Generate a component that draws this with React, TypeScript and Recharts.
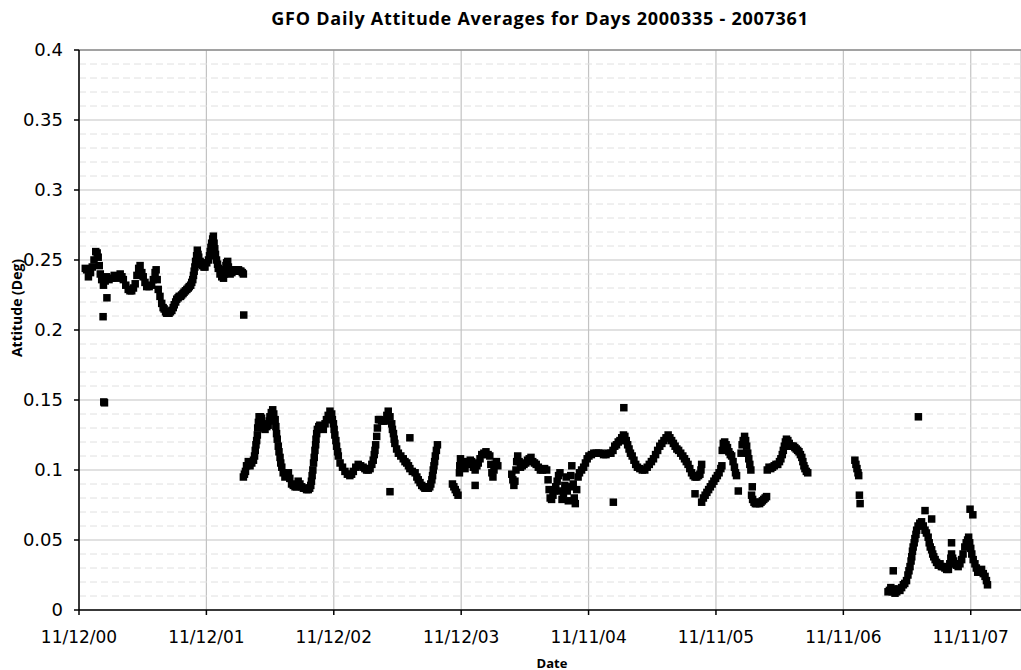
import {
  CartesianGrid,
  ReferenceLine,
  Scatter,
  ScatterChart,
  XAxis,
  YAxis,
} from "recharts";

// x = days since 11/12/2000 (first major tick), y = attitude in degrees
const xTicks = [0, 365, 730, 1095, 1460, 1825, 2190, 2555];
const xTickLabels = [
  "11/12/00",
  "11/12/01",
  "11/12/02",
  "11/12/03",
  "11/11/04",
  "11/11/05",
  "11/11/06",
  "11/11/07",
];
const yTicks = [0, 0.05, 0.1, 0.15, 0.2, 0.25, 0.3, 0.35, 0.4];
const yMinorTicks = [
  0.01, 0.02, 0.03, 0.04, 0.06, 0.07, 0.08, 0.09, 0.11, 0.12, 0.13, 0.14,
  0.16, 0.17, 0.18, 0.19, 0.21, 0.22, 0.23, 0.24, 0.26, 0.27, 0.28, 0.29,
  0.31, 0.32, 0.33, 0.34, 0.36, 0.37, 0.38, 0.39,
];

type Pt = [number, number];

const seg2001: Pt[] = [
  [18, 0.244], [22, 0.243], [27, 0.238], [33, 0.241], [38, 0.245], [43, 0.25],
  [48, 0.256], [52, 0.255], [55, 0.252], [58, 0.246], [61, 0.24], [65, 0.236],
  [70, 0.232], [75, 0.235], [79, 0.238], [86, 0.236], [94, 0.237], [101, 0.239],
  [108, 0.237], [113, 0.238], [118, 0.24], [123, 0.238], [127, 0.236],
  [134, 0.232], [141, 0.229], [146, 0.228], [151, 0.228], [156, 0.23],
  [161, 0.233], [166, 0.239], [171, 0.244], [175, 0.246], [180, 0.241],
  [184, 0.238], [189, 0.234], [194, 0.231], [201, 0.231], [208, 0.232],
  [213, 0.236], [218, 0.241], [221, 0.243], [224, 0.236], [227, 0.229],
  [232, 0.224], [237, 0.219], [241, 0.216], [244, 0.215], [248, 0.213],
  [251, 0.212], [255, 0.212], [258, 0.212], [262, 0.213], [266, 0.214],
  [270, 0.216], [273, 0.218], [277, 0.22], [280, 0.222], [284, 0.223],
  [287, 0.224], [291, 0.224], [294, 0.225], [298, 0.226], [301, 0.227],
  [305, 0.228], [309, 0.229], [313, 0.23], [316, 0.231], [320, 0.232],
  [323, 0.234], [326, 0.236], [328, 0.239], [330, 0.242], [332, 0.245],
  [334, 0.249], [337, 0.253], [339, 0.257], [341, 0.254], [343, 0.252],
  [347, 0.249], [351, 0.247], [354, 0.246], [358, 0.245], [361, 0.245],
  [366, 0.248], [371, 0.25], [374, 0.253], [376, 0.256], [378, 0.259],
  [380, 0.262], [383, 0.265], [385, 0.267], [387, 0.262], [389, 0.258],
  [391, 0.254], [394, 0.25], [397, 0.247], [399, 0.244], [404, 0.24],
  [409, 0.238], [414, 0.237], [417, 0.24], [419, 0.243], [421, 0.246],
  [423, 0.248], [426, 0.249], [428, 0.245], [433, 0.24], [438, 0.241],
  [442, 0.242], [446, 0.243], [450, 0.243], [454, 0.242], [457, 0.243],
  [461, 0.242], [464, 0.242], [468, 0.241], [471, 0.24],
];

const seg2002: Pt[] = [
  [471, 0.095], [474, 0.097], [477, 0.099], [480, 0.103], [485, 0.106],
  [490, 0.103], [495, 0.105], [500, 0.107], [503, 0.11], [505, 0.114],
  [507, 0.118], [509, 0.121], [511, 0.125], [512, 0.13], [514, 0.134],
  [516, 0.138], [520, 0.138], [523, 0.137], [527, 0.133], [530, 0.13],
  [533, 0.129], [538, 0.131], [542, 0.132], [545, 0.135], [547, 0.138],
  [551, 0.141], [555, 0.143], [558, 0.14], [562, 0.136], [564, 0.131],
  [566, 0.126], [568, 0.122], [571, 0.117], [573, 0.113], [576, 0.109],
  [578, 0.105], [581, 0.102], [585, 0.098], [590, 0.095], [595, 0.097],
  [600, 0.098], [604, 0.094], [609, 0.09], [614, 0.089], [619, 0.088],
  [624, 0.088], [628, 0.092], [633, 0.09], [638, 0.088], [643, 0.087],
  [648, 0.087], [652, 0.086], [657, 0.086], [661, 0.087], [664, 0.089],
  [666, 0.092], [668, 0.096], [670, 0.1], [672, 0.105], [674, 0.109],
  [676, 0.114], [678, 0.118], [679, 0.122], [681, 0.126], [683, 0.129],
  [687, 0.131], [690, 0.132], [695, 0.13], [700, 0.129], [705, 0.133],
  [709, 0.136], [714, 0.139], [719, 0.142], [724, 0.14], [726, 0.136],
  [729, 0.133], [731, 0.129], [733, 0.125], [736, 0.121], [738, 0.117],
  [741, 0.113], [743, 0.11], [748, 0.105], [755, 0.102], [762, 0.099],
  [769, 0.097], [776, 0.096], [781, 0.097], [786, 0.099], [793, 0.102],
  [800, 0.104], [807, 0.103], [814, 0.102], [819, 0.101], [824, 0.1],
  [829, 0.1], [834, 0.101], [839, 0.104], [843, 0.107], [846, 0.111],
  [848, 0.114], [850, 0.118], [853, 0.124], [855, 0.13], [858, 0.136],
  [862, 0.136], [867, 0.135], [872, 0.135], [877, 0.135], [882, 0.139],
  [886, 0.142], [891, 0.138], [896, 0.133], [898, 0.129], [901, 0.126],
  [903, 0.122], [905, 0.119], [910, 0.115], [915, 0.112], [922, 0.11],
  [929, 0.108], [934, 0.106], [939, 0.105], [944, 0.103], [948, 0.101],
  [955, 0.099], [963, 0.098], [968, 0.095], [972, 0.093], [977, 0.091],
  [982, 0.089], [987, 0.088], [991, 0.087], [996, 0.087], [1001, 0.087],
  [1005, 0.088], [1008, 0.09], [1011, 0.093], [1013, 0.096], [1015, 0.1],
  [1017, 0.103], [1019, 0.106], [1021, 0.11], [1024, 0.114], [1027, 0.118],
];

const seg2003: Pt[] = [
  [1070, 0.09], [1074, 0.088], [1078, 0.086], [1082, 0.084], [1086, 0.082],
  [1090, 0.098], [1091, 0.103], [1093, 0.108], [1097, 0.106], [1101, 0.102],
  [1106, 0.101], [1111, 0.104], [1116, 0.106], [1121, 0.107], [1125, 0.106],
  [1130, 0.102], [1135, 0.1], [1140, 0.103], [1144, 0.105], [1149, 0.108],
  [1154, 0.111], [1160, 0.112], [1166, 0.113], [1172, 0.111], [1177, 0.11],
  [1180, 0.104], [1183, 0.098], [1186, 0.095], [1189, 0.1], [1192, 0.104],
  [1196, 0.106], [1200, 0.103],
];

const seg2004: Pt[] = [
  [1240, 0.097], [1243, 0.093], [1246, 0.089], [1249, 0.092], [1252, 0.1],
  [1254, 0.106], [1257, 0.11], [1261, 0.106], [1265, 0.102], [1270, 0.103],
  [1275, 0.104], [1280, 0.105], [1285, 0.107], [1290, 0.108], [1295, 0.109],
  [1300, 0.106], [1305, 0.105], [1310, 0.104], [1316, 0.102], [1322, 0.1],
  [1328, 0.1], [1334, 0.101], [1340, 0.1], [1344, 0.093], [1347, 0.086],
  [1350, 0.08], [1354, 0.079], [1358, 0.082], [1362, 0.085], [1366, 0.088],
  [1370, 0.092], [1374, 0.096], [1378, 0.098], [1381, 0.085], [1384, 0.079],
  [1388, 0.083], [1392, 0.089], [1396, 0.095], [1399, 0.085], [1402, 0.078],
  [1406, 0.088], [1409, 0.096], [1412, 0.103], [1416, 0.09], [1419, 0.08],
  [1422, 0.076], [1426, 0.086], [1430, 0.095], [1434, 0.098], [1440, 0.1],
  [1446, 0.102], [1451, 0.105], [1456, 0.108], [1461, 0.11], [1468, 0.111],
  [1475, 0.112], [1482, 0.112], [1489, 0.112], [1496, 0.112], [1503, 0.111],
  [1510, 0.111], [1517, 0.112], [1524, 0.112], [1530, 0.114], [1535, 0.117],
  [1540, 0.118], [1545, 0.12], [1550, 0.121], [1555, 0.123], [1560, 0.125],
  [1564, 0.124], [1568, 0.121], [1572, 0.118], [1576, 0.115], [1580, 0.112],
  [1585, 0.11], [1590, 0.107], [1595, 0.104], [1600, 0.102], [1607, 0.101],
  [1614, 0.1], [1621, 0.1], [1628, 0.102], [1634, 0.104], [1640, 0.106],
  [1646, 0.108], [1652, 0.111], [1658, 0.114], [1664, 0.117], [1670, 0.119],
  [1676, 0.121], [1682, 0.123], [1688, 0.125], [1693, 0.123], [1698, 0.121],
  [1703, 0.119], [1708, 0.117], [1713, 0.115], [1718, 0.114], [1724, 0.112],
  [1730, 0.11], [1735, 0.108], [1740, 0.106], [1745, 0.104], [1750, 0.101],
  [1755, 0.098], [1760, 0.096], [1765, 0.095], [1770, 0.095], [1775, 0.096],
  [1779, 0.097], [1782, 0.1], [1784, 0.104],
];

const seg2005: Pt[] = [
  [1784, 0.077], [1789, 0.08], [1794, 0.082], [1799, 0.084], [1804, 0.086],
  [1809, 0.088], [1814, 0.09], [1819, 0.092], [1824, 0.094], [1829, 0.096],
  [1834, 0.098], [1839, 0.101], [1842, 0.103], [1843, 0.114], [1846, 0.119],
  [1850, 0.12], [1854, 0.118], [1858, 0.116], [1862, 0.113], [1866, 0.111],
  [1870, 0.11], [1874, 0.106], [1878, 0.102], [1881, 0.098], [1884, 0.096],
  [1897, 0.112], [1900, 0.118], [1903, 0.121], [1907, 0.124], [1910, 0.121],
  [1913, 0.117], [1916, 0.112], [1919, 0.108], [1922, 0.104], [1925, 0.1],
  [1927, 0.082], [1930, 0.079], [1934, 0.077], [1938, 0.076], [1942, 0.076],
  [1946, 0.077], [1950, 0.076], [1954, 0.077], [1958, 0.078], [1962, 0.079],
  [1966, 0.08], [1970, 0.081], [1972, 0.1], [1977, 0.102], [1982, 0.101],
  [1987, 0.102], [1992, 0.103], [1997, 0.104], [2002, 0.104], [2007, 0.106],
  [2011, 0.108], [2015, 0.111], [2018, 0.114], [2021, 0.117], [2024, 0.12],
  [2027, 0.122], [2031, 0.121], [2035, 0.119], [2039, 0.117], [2043, 0.117],
  [2047, 0.117], [2051, 0.116], [2055, 0.115], [2059, 0.114], [2063, 0.113],
  [2067, 0.111], [2071, 0.109], [2074, 0.106], [2077, 0.103], [2080, 0.101],
  [2084, 0.099], [2088, 0.098],
];

const seg2006: Pt[] = [
  [2223, 0.107], [2226, 0.104], [2229, 0.101], [2232, 0.098], [2234, 0.096],
];

const seg2007: Pt[] = [
  [2318, 0.013], [2322, 0.014], [2326, 0.016], [2330, 0.013], [2334, 0.015],
  [2338, 0.012], [2343, 0.013], [2348, 0.015], [2352, 0.014], [2357, 0.016],
  [2362, 0.018], [2366, 0.019], [2371, 0.021], [2375, 0.025], [2378, 0.028],
  [2381, 0.031], [2384, 0.035], [2386, 0.038], [2388, 0.042], [2390, 0.045],
  [2393, 0.048], [2395, 0.051], [2398, 0.054], [2400, 0.057], [2404, 0.06],
  [2409, 0.062], [2414, 0.063], [2419, 0.06], [2424, 0.057], [2428, 0.055],
  [2433, 0.052], [2436, 0.048], [2439, 0.045], [2443, 0.043], [2446, 0.04],
  [2449, 0.038], [2453, 0.036], [2457, 0.034], [2462, 0.032], [2467, 0.033],
  [2471, 0.031], [2476, 0.031], [2481, 0.03], [2486, 0.029], [2491, 0.029],
  [2495, 0.033], [2498, 0.037], [2500, 0.04], [2503, 0.037], [2506, 0.035],
  [2510, 0.033], [2514, 0.032], [2519, 0.031], [2524, 0.033], [2529, 0.036],
  [2533, 0.04], [2538, 0.045], [2542, 0.048], [2546, 0.05], [2549, 0.052],
  [2552, 0.048], [2555, 0.044], [2558, 0.04], [2562, 0.036], [2567, 0.033],
  [2571, 0.03], [2575, 0.027], [2580, 0.027], [2586, 0.029], [2591, 0.026],
  [2596, 0.024], [2600, 0.021], [2603, 0.018],
];

const outliers: Pt[] = [
  [69, 0.2095], [80, 0.223], [71, 0.1486], [73, 0.148], [472, 0.2107],
  [891, 0.0845], [948, 0.123], [1135, 0.089], [1531, 0.077], [1561, 0.1445],
  [1765, 0.083], [1889, 0.085], [1929, 0.088], [2236, 0.082], [2238, 0.076],
  [2333, 0.028], [2405, 0.138], [2424, 0.071], [2443, 0.065], [2500, 0.048],
  [2553, 0.072], [2561, 0.068],
];

const points = [
  seg2001,
  seg2002,
  seg2003,
  seg2004,
  seg2005,
  seg2006,
  seg2007,
  outliers,
]
  .flat()
  .map(([day, deg]) => ({ day, deg }));

function SquareDot(props: { cx?: number; cy?: number }) {
  const { cx = 0, cy = 0 } = props;
  return <rect x={cx - 3.75} y={cy - 3.75} width={7.5} height={7.5} fill="#000" />;
}

const xTickFont = { fontFamily: "DejaVu Sans", fontSize: 17, fill: "#000" };
const yTickFont = { fontFamily: "DejaVu Sans", fontSize: 18, fill: "#000" };

export default function App() {
  return (
    <div
      style={{
        position: "absolute",
        left: 0,
        top: 0,
        width: 1021,
        height: 670,
        background: "#fff",
        overflow: "hidden",
        fontFamily: "'DejaVu Sans', Verdana, sans-serif",
      }}
    >
      <div
        style={{
          position: "absolute",
          left: 0,
          width: 1080,
          top: 8,
          textAlign: "center",
          fontFamily: "'Open Sans', sans-serif",
          fontWeight: 700,
          fontSize: 18,
          letterSpacing: 0.75,
          lineHeight: "20px",
          color: "#000",
          whiteSpace: "nowrap",
        }}
      >
        GFO Daily Attitude Averages for Days 2000335 - 2007361
      </div>
      <div
        style={{
          position: "absolute",
          left: 17,
          top: 308,
          transform: "translate(-50%, -50%) rotate(-90deg)",
          fontFamily: "'Open Sans', sans-serif",
          fontWeight: 700,
          fontSize: 14,
          lineHeight: "14px",
          whiteSpace: "nowrap",
        }}
      >
        Attitude (Deg)
      </div>
      <div
        style={{
          position: "absolute",
          left: 552,
          top: 663,
          transform: "translate(-50%, -50%)",
          fontFamily: "'Open Sans', sans-serif",
          fontWeight: 700,
          fontSize: 13,
          lineHeight: "13px",
          whiteSpace: "nowrap",
        }}
      >
        Date
      </div>
      <ScatterChart
        width={1021}
        height={670}
        margin={{ top: 50, right: 0, bottom: 0, left: 0 }}
      >
        <CartesianGrid stroke="#c3c3c3" strokeWidth={1.2} />
        {/* minor 0.01 gridlines, dashed */}
        {yMinorTicks.map((v) => (
          <ReferenceLine
            key={v}
            y={v}
            stroke="#e0e0e0"
            strokeDasharray="7 4"
          />
        ))}
        <XAxis
          type="number"
          dataKey="day"
          domain={[0, 2699]}
          ticks={xTicks}
          interval={0}
          tickFormatter={(v: number) => xTickLabels[xTicks.indexOf(v)] ?? ""}
          height={60}
          tickSize={5}
          tickMargin={16}
          tick={xTickFont}
          stroke="#000"
          strokeWidth={1.5}
        />
        <YAxis
          type="number"
          dataKey="deg"
          domain={[0, 0.4]}
          ticks={yTicks}
          interval={0}
          width={79}
          tickSize={5}
          tickMargin={11}
          tick={yTickFont}
          stroke="#000"
          strokeWidth={1.5}
        />
        <ReferenceLine y={0.4} stroke="#8c8c8c" strokeWidth={1.5} />
        <Scatter data={points} shape={SquareDot} isAnimationActive={false} />
      </ScatterChart>
    </div>
  );
}
